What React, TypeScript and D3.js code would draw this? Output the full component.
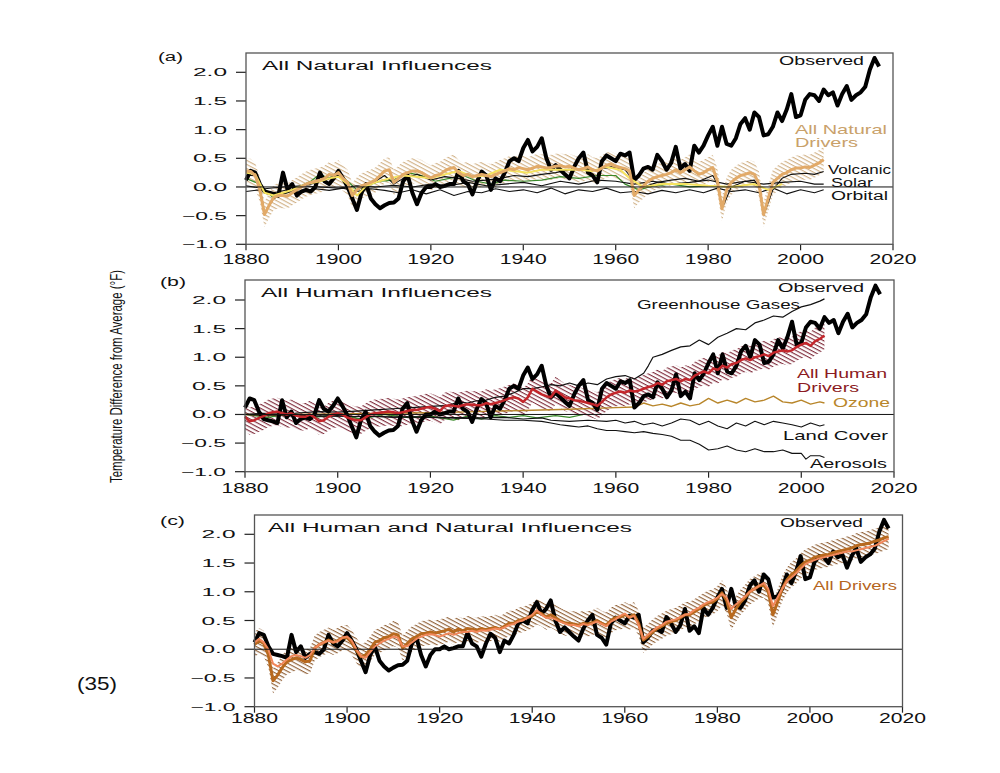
import React from 'react';
import * as d3 from 'd3';

// Observed vs modelled temperature change, three panels (degrees F)

const observed = [
  0.12, 0.28, 0.25, 0.05, -0.08, -0.1, -0.12, -0.15, 0.25, -0.05, 0.05, -0.15, -0.08, -0.05, -0.08, 0.0, 0.25, 0.1, 0.05, 0.15,
  0.28, 0.15, 0.0, -0.2, -0.4, -0.1, 0.05, -0.2, -0.3, -0.37, -0.32, -0.28, -0.27, -0.2, 0.1, 0.2, -0.1, -0.3, -0.1, 0.0,
  0.0, 0.05, 0.0, 0.02, 0.05, 0.05, 0.28, 0.1, 0.05, -0.13, 0.1, 0.27, 0.2, -0.05, 0.15, 0.1, 0.25, 0.45, 0.5, 0.45,
  0.68, 0.82, 0.62, 0.7, 0.85, 0.5, 0.3, 0.38, 0.3, 0.22, 0.15, 0.35, 0.5, 0.6, 0.25, 0.2, 0.08, 0.45, 0.55, 0.5,
  0.45, 0.58, 0.55, 0.6, 0.12, 0.2, 0.32, 0.35, 0.3, 0.56, 0.45, 0.3, 0.42, 0.7, 0.32, 0.4, 0.28, 0.72, 0.6, 0.72,
  0.9, 1.05, 0.72, 1.05, 0.75, 0.72, 0.85, 1.1, 1.2, 1.0, 1.3, 1.22, 0.9, 0.92, 1.05, 1.3, 1.15, 1.35, 1.62, 1.22,
  1.25, 1.52, 1.62, 1.6, 1.5, 1.7, 1.6, 1.65, 1.42, 1.62, 1.76, 1.52, 1.6, 1.65, 1.75, 2.05, 2.25, 2.1,
];

const naturalDrivers = [
  0.28, 0.27, 0.2, -0.05, -0.48, -0.32, -0.18, -0.15, -0.15, -0.16, -0.1, -0.05, 0.0, 0.05, 0.08, 0.1, 0.12, 0.15, 0.22, 0.2,
  0.25, 0.15, 0.08, -0.15, -0.05, 0.02, 0.05, 0.08, 0.12, 0.2, 0.28, 0.3, 0.08, 0.15, 0.22, 0.25, 0.28, 0.28, 0.25, 0.2,
  0.16, 0.2, 0.22, 0.28, 0.32, 0.34, 0.25, 0.2, 0.22, 0.18, 0.2, 0.22, 0.2, 0.18, 0.22, 0.25, 0.28, 0.32, 0.3, 0.34,
  0.32, 0.3, 0.33, 0.36, 0.35, 0.33, 0.34, 0.36, 0.37, 0.35, 0.36, 0.33, 0.3, 0.32, 0.35, 0.3, 0.28, 0.33, 0.38, 0.4,
  0.36, 0.34, 0.32, 0.28, -0.15, -0.05, 0.02, 0.1, 0.15, 0.18, 0.2, 0.22, 0.25, 0.3, 0.25, 0.3, 0.35, 0.28, 0.22, 0.25,
  0.3, 0.34, 0.1, -0.38, -0.05, 0.08, 0.15, 0.2, 0.22, 0.25, 0.22, 0.05, -0.48, -0.2, 0.08, 0.15, 0.22, 0.25, 0.3, 0.33,
  0.33, 0.35, 0.34, 0.38, 0.42, 0.48,
];

const humanDrivers = [
  -0.04, -0.12, -0.1, -0.06, -0.03, 0.02, 0.04, 0.05, 0.02, 0.0, 0.02, -0.02, -0.04, -0.04, 0.0, -0.05, -0.12, -0.1, -0.04, 0.0,
  0.02, 0.0, -0.05, -0.08, -0.1, -0.1, -0.05, 0.0, 0.02, 0.03, 0.04, 0.05, 0.04, 0.02, 0.04, 0.06, 0.08, 0.08, 0.1, 0.12,
  0.13, 0.1, 0.06, 0.14, 0.16, 0.15, 0.14, 0.16, 0.18, 0.17, 0.16, 0.16, 0.2, 0.18, 0.2, 0.22, 0.25, 0.28, 0.3, 0.28,
  0.22, 0.3, 0.45, 0.4, 0.35, 0.32, 0.3, 0.42, 0.36, 0.3, 0.28, 0.25, 0.24, 0.22, 0.2, 0.18, 0.15, 0.22, 0.3, 0.35,
  0.38, 0.4, 0.38, 0.42, 0.4, 0.42, 0.45, 0.48, 0.5, 0.55, 0.52, 0.58, 0.6, 0.62, 0.58, 0.62, 0.6, 0.68, 0.72, 0.75,
  0.72, 0.8, 0.78, 0.85, 0.82, 0.88, 0.9, 0.95, 0.98, 0.95, 1.0, 1.02, 1.05, 1.02, 1.08, 1.1, 1.12, 1.1, 1.12, 1.18,
  1.22, 1.25, 1.2, 1.28, 1.32, 1.38,
];

const allDrivers = [
  0.08, 0.15, 0.1, -0.1, -0.55, -0.45, -0.32, -0.22, -0.18, -0.15, -0.18, -0.22, -0.2, 0.02, 0.08, 0.12, 0.16, 0.12, 0.15, 0.2,
  0.2, 0.12, -0.02, -0.13, -0.1, 0.0, 0.12, 0.15, 0.2, 0.22, 0.27, 0.25, 0.02, 0.1, 0.18, 0.22, 0.27, 0.28, 0.3, 0.28,
  0.3, 0.32, 0.35, 0.3, 0.35, 0.32, 0.36, 0.35, 0.33, 0.36, 0.34, 0.36, 0.38, 0.35, 0.4, 0.45, 0.45, 0.5, 0.52, 0.55,
  0.58, 0.65, 0.62, 0.56, 0.6, 0.55, 0.5, 0.46, 0.45, 0.44, 0.42, 0.45, 0.44, 0.46, 0.5, 0.45, 0.42, 0.5, 0.55, 0.56,
  0.6, 0.56, 0.6, 0.45, 0.16, 0.22, 0.3, 0.36, 0.4, 0.45, 0.48, 0.5, 0.55, 0.6, 0.6, 0.65, 0.7, 0.76, 0.8, 0.82,
  0.88, 0.98, 0.85, 0.55, 0.7, 0.82, 0.9, 1.0, 1.05, 1.1, 1.12, 1.0, 0.6, 0.82, 1.05, 1.2, 1.3, 1.36, 1.45, 1.52,
  1.55, 1.6, 1.62, 1.64, 1.65, 1.68, 1.7, 1.72, 1.74, 1.76, 1.8, 1.82, 1.83, 1.85, 1.88, 1.9, 1.94, 1.96,
];

const allDriversAlt = [
  0.12, 0.18, 0.12, 0.0, -0.25, -0.3, -0.25, -0.18, -0.12, -0.1, -0.12, -0.15, -0.1, 0.02, 0.08, 0.12, 0.15, 0.12, 0.14, 0.2,
  0.22, 0.15, 0.0, -0.12, -0.15, -0.05, 0.05, 0.1, 0.15, 0.18, 0.22, 0.2, 0.05, 0.05, 0.12, 0.18, 0.22, 0.25, 0.26, 0.25,
  0.22, 0.25, 0.28, 0.25, 0.28, 0.3, 0.3, 0.32, 0.3, 0.33, 0.32, 0.34, 0.36, 0.35, 0.38, 0.42, 0.44, 0.48, 0.5, 0.55,
  0.6, 0.68, 0.6, 0.55, 0.55, 0.52, 0.48, 0.45, 0.42, 0.42, 0.4, 0.44, 0.42, 0.45, 0.48, 0.44, 0.4, 0.48, 0.52, 0.58,
  0.62, 0.55, 0.58, 0.42, 0.18, 0.25, 0.32, 0.38, 0.42, 0.48, 0.5, 0.52, 0.56, 0.6, 0.62, 0.68, 0.72, 0.78, 0.82, 0.85,
  0.9, 0.96, 0.9, 0.7, 0.78, 0.85, 0.92, 1.0, 1.05, 1.1, 1.15, 1.05, 0.75, 0.9, 1.05, 1.18, 1.25, 1.32, 1.4, 1.48,
  1.52, 1.55, 1.58, 1.6, 1.62, 1.64, 1.66, 1.68, 1.7, 1.7, 1.72, 1.74, 1.76, 1.78, 1.8, 1.84, 1.88, 1.92,
];

// thinner single-forcing lines as [year, value]
const volcanicLine = [
  [1880, 0.2], [1882, 0.2], [1883, 0.0], [1884, -0.45], [1886, -0.2], [1888, -0.12], [1890, -0.08], [1892, 0.02], [1894, 0.05],
  [1896, 0.1], [1898, 0.15], [1900, 0.2], [1902, 0.05], [1903, -0.12], [1905, 0.0], [1908, 0.1], [1910, 0.2], [1912, 0.05],
  [1914, 0.15], [1917, 0.22], [1920, 0.12], [1923, 0.18], [1926, 0.15], [1929, 0.1], [1932, 0.12], [1935, 0.15], [1938, 0.2],
  [1941, 0.18], [1944, 0.22], [1947, 0.25], [1950, 0.3], [1953, 0.32], [1956, 0.3], [1959, 0.35], [1962, 0.3], [1963, 0.2],
  [1964, -0.12], [1966, 0.0], [1969, 0.08], [1972, 0.12], [1975, 0.15], [1978, 0.1], [1981, 0.2], [1982, 0.05], [1983, -0.38],
  [1985, 0.0], [1988, 0.1], [1990, 0.12], [1991, 0.0], [1992, -0.5], [1994, -0.05], [1996, 0.15], [1998, 0.22], [2001, 0.24],
  [2003, 0.22], [2005, 0.27],
];
const solarLine = [
  [1880, 0.02], [1884, -0.03], [1888, 0.0], [1892, 0.02], [1896, 0.0], [1900, -0.02], [1904, 0.02], [1908, 0.0], [1912, 0.03],
  [1916, 0.0], [1920, 0.05], [1924, 0.02], [1928, 0.08], [1932, 0.02], [1936, 0.05], [1940, 0.08], [1944, 0.02], [1948, 0.1],
  [1952, 0.05], [1956, 0.12], [1960, 0.1], [1964, 0.05], [1968, 0.1], [1972, 0.05], [1976, 0.08], [1980, 0.12], [1984, 0.05],
  [1988, 0.1], [1992, 0.05], [1996, 0.08], [2000, 0.1], [2003, 0.05], [2005, 0.05],
];
const orbitalLine = [
  [1880, -0.08], [1883, -0.05], [1886, -0.1], [1889, -0.05], [1892, -0.08], [1895, -0.03], [1898, -0.06], [1901, -0.02],
  [1904, -0.08], [1907, -0.03], [1910, -0.06], [1913, -0.1], [1916, -0.05], [1919, -0.12], [1922, -0.05], [1925, -0.15],
  [1928, -0.08], [1931, -0.1], [1934, -0.03], [1937, -0.08], [1940, -0.05], [1943, -0.1], [1946, -0.02], [1949, -0.12],
  [1952, -0.05], [1955, -0.08], [1958, -0.02], [1961, -0.1], [1964, -0.08], [1967, -0.12], [1970, -0.06], [1973, -0.1],
  [1976, -0.05], [1979, -0.1], [1982, -0.02], [1985, -0.08], [1988, -0.05], [1991, -0.1], [1994, -0.02], [1997, -0.12],
  [2000, -0.05], [2003, -0.1], [2005, -0.05],
];
const greenLineA = [
  [1880, 0.15], [1883, 0.05], [1886, -0.2], [1890, -0.05], [1894, 0.1], [1896, 0.22], [1898, 0.15], [1900, 0.25], [1902, 0.1],
  [1904, -0.05], [1906, 0.02], [1909, 0.1], [1912, 0.12], [1915, 0.25], [1918, 0.2], [1921, 0.1], [1924, 0.15], [1927, 0.2],
  [1930, 0.1], [1933, 0.05], [1936, 0.12], [1940, 0.1], [1944, 0.12], [1948, 0.18], [1952, 0.15], [1956, 0.2], [1960, 0.2],
  [1962, 0.05], [1965, -0.05], [1968, 0.02], [1972, 0.05], [1976, 0.0], [1980, 0.02],
];
const yellowLineA = [
  [1880, 0.25], [1882, 0.22], [1884, -0.1], [1886, -0.15], [1888, -0.1], [1890, -0.05], [1893, 0.05], [1896, 0.1], [1898, 0.15],
  [1900, 0.18], [1902, 0.05], [1904, -0.15], [1906, 0.02], [1908, 0.08], [1911, 0.15], [1914, 0.2], [1917, 0.18], [1920, 0.15],
  [1923, 0.22], [1926, 0.28], [1929, 0.18], [1932, 0.2], [1935, 0.3], [1938, 0.28], [1941, 0.25], [1944, 0.3], [1948, 0.3],
  [1952, 0.3], [1955, 0.28], [1958, 0.35], [1961, 0.3], [1963, 0.15], [1966, 0.0], [1970, 0.05], [1975, 0.05], [1980, 0.02],
  [1985, 0.0], [1990, 0.05], [1993, -0.05], [1996, 0.05],
];

const greenhouseGases = [
  [1880, 0.0], [1884, 0.02], [1888, 0.0], [1892, 0.03], [1896, 0.05], [1900, 0.04], [1904, 0.06], [1908, 0.08], [1912, 0.1],
  [1916, 0.12], [1920, 0.14], [1924, 0.16], [1926, 0.22], [1928, 0.2], [1930, 0.24], [1932, 0.25], [1934, 0.3], [1936, 0.32],
  [1938, 0.38], [1940, 0.45], [1942, 0.45], [1944, 0.48], [1946, 0.52], [1948, 0.5], [1950, 0.55], [1952, 0.5], [1954, 0.55],
  [1956, 0.52], [1958, 0.62], [1960, 0.66], [1962, 0.68], [1964, 0.62], [1966, 0.72], [1967, 0.85], [1968, 1.0], [1970, 1.05],
  [1972, 1.12], [1974, 1.18], [1976, 1.2], [1978, 1.3], [1980, 1.22], [1982, 1.35], [1984, 1.42], [1986, 1.5], [1988, 1.48],
  [1990, 1.6], [1992, 1.65], [1994, 1.72], [1996, 1.7], [1998, 1.8], [2000, 1.88], [2002, 1.92], [2004, 1.98], [2005, 2.02],
];
const aerosols = [
  [1880, 0.0], [1884, -0.02], [1888, 0.0], [1892, -0.02], [1896, -0.03], [1900, -0.02], [1904, -0.04], [1908, -0.03],
  [1912, -0.05], [1916, -0.04], [1920, -0.05], [1924, -0.06], [1928, -0.07], [1932, -0.08], [1936, -0.1], [1940, -0.1],
  [1944, -0.12], [1946, -0.15], [1948, -0.18], [1950, -0.2], [1952, -0.22], [1954, -0.2], [1956, -0.25], [1958, -0.28],
  [1960, -0.28], [1962, -0.3], [1964, -0.32], [1966, -0.3], [1968, -0.33], [1970, -0.35], [1972, -0.38], [1974, -0.45],
  [1976, -0.45], [1978, -0.52], [1980, -0.62], [1982, -0.6], [1984, -0.55], [1986, -0.62], [1988, -0.65], [1990, -0.6],
  [1992, -0.65], [1994, -0.65], [1996, -0.62], [1998, -0.68], [2000, -0.68], [2001, -0.78], [2002, -0.72], [2004, -0.72],
  [2005, -0.75],
];
const landCover = [
  [1880, 0.0], [1890, -0.02], [1900, -0.03], [1910, -0.04], [1920, -0.05], [1930, -0.06], [1936, -0.05], [1940, -0.08],
  [1944, -0.06], [1946, -0.1], [1950, -0.12], [1954, -0.1], [1958, -0.12], [1960, -0.1], [1962, -0.15], [1964, -0.12],
  [1966, -0.18], [1968, -0.15], [1970, -0.2], [1972, -0.15], [1974, -0.08], [1976, -0.1], [1978, -0.18], [1980, -0.12],
  [1982, -0.2], [1984, -0.25], [1986, -0.15], [1988, -0.2], [1990, -0.12], [1992, -0.18], [1994, -0.12], [1996, -0.15],
  [1998, -0.18], [2000, -0.22], [2002, -0.15], [2004, -0.2], [2005, -0.18],
];
const ozone = [
  [1880, 0.0], [1890, 0.0], [1900, 0.01], [1910, 0.02], [1920, 0.03], [1930, 0.05], [1940, 0.07], [1950, 0.09], [1960, 0.12],
  [1964, 0.13], [1966, 0.2], [1968, 0.15], [1970, 0.18], [1972, 0.14], [1974, 0.2], [1976, 0.15], [1978, 0.18], [1980, 0.28],
  [1982, 0.2], [1984, 0.25], [1986, 0.2], [1988, 0.28], [1990, 0.22], [1992, 0.25], [1994, 0.32], [1996, 0.22], [1998, 0.2],
  [2000, 0.25], [2002, 0.18], [2004, 0.22], [2005, 0.2],
];
const greenLineB = [
  [1880, 0.0], [1885, -0.05], [1890, 0.02], [1895, -0.05], [1900, 0.0], [1905, -0.08], [1910, 0.0], [1915, -0.05], [1920, -0.03],
  [1925, -0.1], [1928, -0.03], [1931, -0.08], [1934, -0.02], [1937, -0.05], [1940, -0.02], [1943, -0.06], [1947, -0.02],
  [1950, -0.05], [1953, 0.0],
];

const yTicks = [-1.0, -0.5, 0.0, 0.5, 1.0, 1.5, 2.0];
const xTicks = [1880, 1900, 1920, 1940, 1960, 1980, 2000, 2020];

// half-width of the model spread (°F)
const naturalSpread = 0.22;
const humanSpread = 0.24;
const allSpread = 0.22;

const FONT = "'Liberation Sans', Arial, sans-serif";

const byYear = (arr: number[]) => arr.map((v, i) => [1880 + i, v] as [number, number]);

const Txt = ({ x, y, w, size, anchor = 'start', fill = '#111', children }: any) => (
  <text x={x} y={y} fontSize={size} textAnchor={anchor} fill={fill} textLength={w}
    lengthAdjust="spacingAndGlyphs" fontFamily={FONT}>{children}</text>
);

const Panel = ({ cfg, children }: any) => {
  const x = d3.scaleLinear().domain([1880, 2020]).range([cfg.left, cfg.right]);
  const y = d3.scaleLinear().domain([-1, 2]).range([cfg.yBot, cfg.yTop]);
  const line = d3.line<[number, number]>().x(d => x(d[0])).y(d => y(d[1]));
  const band = (arr: number[], s: number) =>
    d3.area<[number, number]>().x(d => x(d[0])).y0(d => y(d[1] - s)).y1(d => y(d[1] + s))(byYear(arr)) || '';
  return (
    <g>
      {yTicks.map(t => (
        <g key={t}>
          <line x1={cfg.left - 10} x2={cfg.left} y1={y(t)} y2={y(t)} stroke="#222" strokeWidth={1.2} />
          <Txt x={cfg.left - 19} y={y(t) + 4} size={11} anchor="end" w={t < 0 ? 45 : 34}>
            {t < 0 ? '\u2212' + Math.abs(t).toFixed(1) : t.toFixed(1)}
          </Txt>
        </g>
      ))}
      {xTicks.map(t => (
        <g key={t}>
          <line x1={x(t)} x2={x(t)} y1={cfg.yBot} y2={cfg.yBot + 6} stroke="#222" strokeWidth={1.2} />
          <Txt x={x(t)} y={cfg.yBot + cfg.labelDy} size={14.5} anchor="middle" w={47}>{t}</Txt>
        </g>
      ))}
      {children({ x, y, line, band })}
      <line x1={cfg.left} x2={cfg.right} y1={y(0)} y2={y(0)} stroke="#111" strokeWidth={1} />
      <rect x={cfg.left} y={cfg.boxTop} width={cfg.right - cfg.left} height={cfg.yBot - cfg.boxTop}
        fill="none" stroke="#555" strokeWidth={1.3} />
    </g>
  );
};

const hatch = (id: string, color: string) => (
  <pattern id={id} width={6} height={3.6} patternUnits="userSpaceOnUse" patternTransform="rotate(28)">
    <line x1={0} x2={6} y1={0.6} y2={0.6} stroke={color} strokeWidth={1.1} />
  </pattern>
);

const panelA = { left: 246, right: 893, yTop: 72.3, yBot: 244.3, boxTop: 53, labelDy: 20 };
const panelB = { left: 245, right: 894, yTop: 300, yBot: 471.7, boxTop: 280, labelDy: 21 };
const panelC = { left: 254.5, right: 902.5, yTop: 534.3, yBot: 706.7, boxTop: 515, labelDy: 16 };

const App = () => {
  const obs = byYear(observed);
  return (
    <svg width={1000} height={773} style={{ position: 'absolute', left: 0, top: 0, background: '#fff' }}>
      <defs>
        {hatch('hA', '#cfae82')}
        {hatch('hB', '#7a2333')}
        {hatch('hC', '#8c5a2e')}
      </defs>
      <rect width={1000} height={773} fill="#fff" />

      {/* (a) natural */}
      <Panel cfg={panelA}>
        {({ line, band }: any) => (
          <g fill="none" strokeLinejoin="round">
            <path d={band(naturalDrivers, naturalSpread)} fill="url(#hA)" />
            <path d={line(greenLineA)} stroke="#3a8a2a" strokeWidth={1.2} />
            <path d={line(orbitalLine)} stroke="#111" strokeWidth={1.1} />
            <path d={line(solarLine)} stroke="#111" strokeWidth={1.1} />
            <path d={line(volcanicLine)} stroke="#111" strokeWidth={1.1} />
            <path d={line(obs)} stroke="#000" strokeWidth={4} />
            <path d={line(yellowLineA)} stroke="#f6e35e" strokeWidth={2} />
            <path d={line(byYear(naturalDrivers))} stroke="#e2aa68" strokeWidth={3} />
          </g>
        )}
      </Panel>
      <Txt x={158} y={61} size={12} w={25}>(a)</Txt>
      <Txt x={262} y={69.5} size={12.5} w={230}>All Natural Influences</Txt>
      <Txt x={779} y={65} size={13.5} w={85}>Observed</Txt>
      <Txt x={795} y={133.5} size={13.5} w={92} fill="#c9a16a">All Natural</Txt>
      <Txt x={795} y={147} size={13.5} w={63} fill="#c9a16a">Drivers</Txt>
      <Txt x={828} y={174} size={12.5} w={63}>Volcanic</Txt>
      <Txt x={831} y={187} size={12.5} w={42}>Solar</Txt>
      <Txt x={831} y={200} size={12.5} w={57}>Orbital</Txt>

      {/* (b) human */}
      <Panel cfg={panelB}>
        {({ line, band }: any) => (
          <g fill="none" strokeLinejoin="round">
            <path d={band(humanDrivers, humanSpread)} fill="url(#hB)" />
            <path d={line(greenLineB)} stroke="#3a8a2a" strokeWidth={1.2} />
            <path d={line(landCover)} stroke="#111" strokeWidth={1.1} />
            <path d={line(aerosols)} stroke="#111" strokeWidth={1.1} />
            <path d={line(ozone)} stroke="#b8862b" strokeWidth={1.4} />
            <path d={line(greenhouseGases)} stroke="#111" strokeWidth={1.2} />
            <path d={line(obs)} stroke="#000" strokeWidth={4} />
            <path d={line(byYear(humanDrivers))} stroke="#c4262b" strokeWidth={2.5} />
          </g>
        )}
      </Panel>
      <Txt x={160} y={286} size={12} w={26}>(b)</Txt>
      <Txt x={261} y={297} size={12.5} w={231}>All Human Influences</Txt>
      <Txt x={778} y={291.5} size={13.5} w={86}>Observed</Txt>
      <Txt x={637} y={309} size={13.5} w={163}>Greenhouse Gases</Txt>
      <Txt x={797} y={378} size={13.5} w={90} fill="#8b1a22">All Human</Txt>
      <Txt x={797} y={391.5} size={13.5} w={62} fill="#8b1a22">Drivers</Txt>
      <Txt x={833} y={406.5} size={13.5} w={57} fill="#b8862b">Ozone</Txt>
      <Txt x={783} y={440} size={13.5} w={105}>Land Cover</Txt>
      <Txt x={810} y={468} size={13.5} w={77}>Aerosols</Txt>

      {/* (c) all */}
      <Panel cfg={panelC}>
        {({ line, band }: any) => (
          <g fill="none" strokeLinejoin="round">
            <path d={band(allDrivers, allSpread)} fill="url(#hC)" />
            <path d={line(obs)} stroke="#000" strokeWidth={4} />
            <path d={line(byYear(allDrivers))} stroke="#b8691e" strokeWidth={3} />
            <path d={line(byYear(allDriversAlt))} stroke="#f2875a" strokeWidth={2} />
          </g>
        )}
      </Panel>
      <Txt x={160} y={525} size={12} w={25}>(c)</Txt>
      <Txt x={268} y={531.5} size={12.5} w={364}>All Human and Natural Influences</Txt>
      <Txt x={780} y={526.5} size={13.5} w={83}>Observed</Txt>
      <Txt x={813} y={590} size={13.5} w={84} fill="#b5651d">All Drivers</Txt>

      <g transform="translate(122,376.5) rotate(-90)">
        <Txt x={0} y={0} size={16} anchor="middle" w={213}>Temperature Difference from Average (°F)</Txt>
      </g>
      <Txt x={77} y={690} size={18} w={40}>(35)</Txt>
    </svg>
  );
};

export default App;
